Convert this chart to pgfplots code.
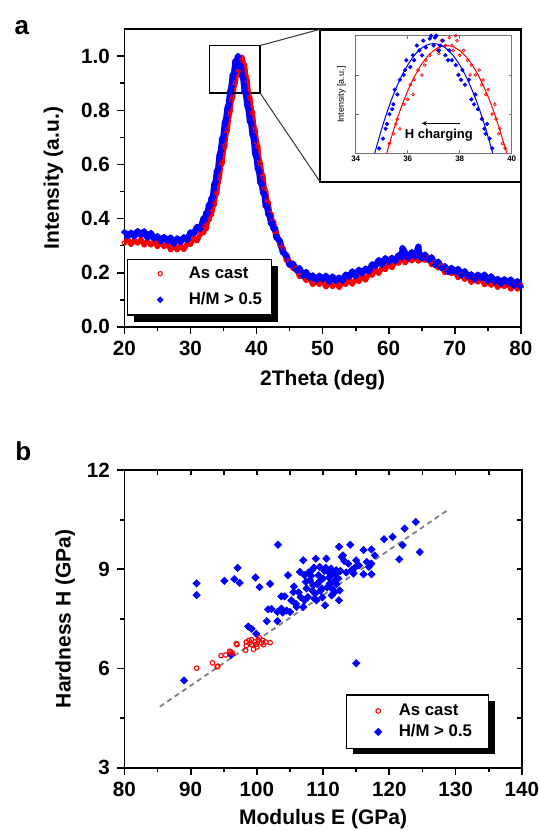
\documentclass[border=0pt]{standalone}
\usepackage{fontspec}
\setmainfont{Liberation Sans}
\usepackage{pgfplots}
\pgfplotsset{compat=1.18}
\usepackage{pgfplotstable}
\usetikzlibrary{arrows.meta}

\definecolor{hred}{RGB}{255,0,0}
\definecolor{hblue}{RGB}{0,0,255}

\pgfplotsset{
  base/.style={scale only axis,
    axis line style={line width=0.9pt},
    tick style={line width=0.9pt, black},
    tick align=outside, major tick length=3.75pt, minor tick length=2.3pt,
    /pgf/number format/assume math mode=true,
    tick label style={font=\fontsize{10.3}{12}\selectfont\bfseries},
    label style={font=\fontsize{10.5}{12}\selectfont\bfseries},
    legend cell align=left},
}

% XRD, as cast
\pgfplotstableread{
x y
20.0 0.310
20.5 0.324
21.0 0.305
21.5 0.319
22.0 0.310
22.5 0.323
23.0 0.303
23.5 0.316
24.0 0.303
24.5 0.316
25.0 0.297
25.5 0.309
26.0 0.297
26.5 0.307
27.0 0.285
27.5 0.297
28.0 0.285
28.5 0.301
29.0 0.286
29.5 0.306
30.0 0.305
30.5 0.327
31.0 0.318
31.5 0.344
32.0 0.348
32.2 0.371
32.4 0.363
32.6 0.390
32.8 0.395
33.0 0.422
33.2 0.415
33.4 0.445
33.6 0.452
33.8 0.488
34.0 0.494
34.2 0.535
34.4 0.554
34.6 0.596
34.8 0.606
35.0 0.650
35.2 0.669
35.4 0.714
35.6 0.728
35.8 0.774
36.0 0.796
36.2 0.839
36.4 0.848
36.6 0.889
36.8 0.902
37.0 0.939
37.2 0.943
37.4 0.976
37.6 0.981
37.8 0.996
38.0 0.975
38.2 0.968
38.4 0.927
38.6 0.910
38.8 0.861
39.0 0.845
39.2 0.807
39.4 0.791
39.6 0.742
39.8 0.726
40.0 0.684
40.2 0.666
40.4 0.618
40.6 0.603
40.8 0.567
41.0 0.554
41.2 0.510
41.4 0.500
41.6 0.465
41.8 0.458
42.0 0.420
42.2 0.416
42.4 0.390
42.6 0.387
42.8 0.352
43.0 0.351
43.5 0.305
44.0 0.290
44.5 0.247
45.0 0.241
45.5 0.216
46.0 0.216
46.5 0.186
47.0 0.191
47.5 0.172
48.0 0.180
48.5 0.157
49.0 0.168
49.5 0.157
50.0 0.169
50.5 0.148
51.0 0.161
51.5 0.149
52.0 0.163
52.5 0.146
53.0 0.163
53.5 0.157
54.0 0.174
54.5 0.158
55.0 0.176
55.5 0.168
56.0 0.186
56.5 0.173
57.0 0.193
57.5 0.191
58.0 0.211
58.5 0.198
59.0 0.218
59.5 0.212
60.0 0.232
60.5 0.219
61.0 0.239
61.5 0.235
62.0 0.253
62.5 0.237
63.0 0.254
63.5 0.244
64.0 0.260
64.5 0.243
65.0 0.257
65.5 0.246
66.0 0.255
66.5 0.230
67.0 0.237
67.5 0.218
68.0 0.225
68.5 0.201
69.0 0.210
69.5 0.197
70.0 0.206
70.5 0.182
71.0 0.192
71.5 0.176
72.0 0.186
72.5 0.165
73.0 0.177
73.5 0.166
74.0 0.177
74.5 0.156
75.0 0.168
75.5 0.154
76.0 0.166
76.5 0.146
77.0 0.159
77.5 0.149
78.0 0.161
78.5 0.140
79.0 0.153
79.5 0.140
80.0 0.153
}\xrdac

% XRD, H/M > 0.5
\pgfplotstableread{
x y
20.0 0.350
20.5 0.335
21.0 0.347
21.5 0.334
22.0 0.353
22.5 0.340
23.0 0.352
23.5 0.329
24.0 0.346
24.5 0.326
25.0 0.334
25.5 0.316
26.0 0.331
26.5 0.317
27.0 0.329
27.5 0.306
28.0 0.326
28.5 0.313
29.0 0.330
29.5 0.321
30.0 0.348
30.5 0.345
31.0 0.369
31.5 0.361
32.0 0.402
32.2 0.395
32.4 0.422
32.6 0.419
32.8 0.451
33.0 0.449
33.2 0.475
33.4 0.480
33.6 0.526
33.8 0.536
34.0 0.574
34.2 0.586
34.4 0.633
34.6 0.650
34.8 0.694
35.0 0.704
35.2 0.754
35.4 0.768
35.6 0.808
35.8 0.821
36.0 0.868
36.2 0.886
36.4 0.930
36.6 0.937
36.8 0.982
37.0 0.983
37.2 1.000
37.4 0.971
37.6 0.966
37.8 0.929
38.0 0.917
38.2 0.869
38.4 0.863
38.6 0.819
38.8 0.803
39.0 0.760
39.2 0.751
39.4 0.711
39.6 0.694
39.8 0.640
40.0 0.627
40.2 0.585
40.4 0.572
40.6 0.532
40.8 0.527
41.0 0.495
41.2 0.488
41.4 0.446
41.6 0.447
41.8 0.415
42.0 0.411
42.2 0.381
42.4 0.385
42.6 0.361
42.8 0.364
43.0 0.331
43.5 0.318
44.0 0.275
44.5 0.264
45.0 0.229
45.5 0.233
46.0 0.210
46.5 0.216
47.0 0.188
47.5 0.202
48.0 0.181
48.5 0.189
49.0 0.171
49.5 0.188
50.0 0.175
50.5 0.188
51.0 0.166
51.5 0.185
52.0 0.169
52.5 0.181
53.0 0.169
53.5 0.192
54.0 0.185
54.5 0.204
55.0 0.187
55.5 0.210
56.0 0.198
56.5 0.214
57.0 0.205
57.5 0.230
58.0 0.225
58.5 0.246
59.0 0.230
59.5 0.253
60.0 0.240
60.5 0.254
61.0 0.242
61.5 0.264
62.0 0.256
62.1 0.290
62.5 0.273
63.0 0.254
63.5 0.275
64.0 0.259
64.5 0.296
64.6 0.272
65.0 0.253
65.5 0.266
66.0 0.248
66.5 0.256
67.0 0.228
67.5 0.240
68.0 0.217
68.5 0.223
69.0 0.203
69.5 0.217
70.0 0.202
70.5 0.213
71.0 0.189
71.5 0.205
72.0 0.185
72.5 0.193
73.0 0.175
73.5 0.192
74.0 0.179
74.5 0.192
75.0 0.169
75.5 0.186
76.0 0.167
76.5 0.176
77.0 0.159
77.5 0.175
78.0 0.161
78.5 0.174
79.0 0.151
79.5 0.168
80.0 0.148
}\xrdhm

% inset points
\pgfplotstableread{
x y
35.30 0.890
35.45 0.900
35.55 0.910
35.60 0.915
35.70 0.905
35.85 0.930
36.00 0.935
36.10 0.950
36.20 0.940
36.25 0.955
36.40 0.965
36.55 0.960
36.65 0.970
36.70 0.975
36.85 0.980
37.00 0.990
37.15 0.985
37.20 0.982
37.30 0.995
37.45 0.990
37.60 0.998
37.70 0.990
37.75 0.985
37.85 1.000
37.90 0.995
38.00 0.980
38.15 0.985
38.30 0.975
38.40 0.960
38.45 0.970
38.60 0.960
38.75 0.965
38.85 0.950
38.90 0.955
39.00 0.940
39.10 0.945
39.25 0.920
39.35 0.930
39.40 0.915
39.50 0.900
39.55 0.905
39.65 0.890
39.75 0.885
}\insac
\pgfplotstableread{
x y
34.90 0.885
35.05 0.895
35.15 0.905
35.20 0.910
35.30 0.920
35.40 0.925
35.45 0.930
35.50 0.945
35.60 0.940
35.70 0.955
35.85 0.960
35.90 0.965
35.95 0.975
36.10 0.968
36.20 0.980
36.25 0.975
36.35 0.990
36.45 0.985
36.55 0.980
36.60 0.995
36.70 0.988
36.85 0.997
36.90 1.000
37.00 0.990
37.05 0.998
37.10 1.000
37.20 0.985
37.25 0.990
37.35 0.995
37.45 0.980
37.55 0.975
37.60 0.985
37.70 0.975
37.85 0.970
37.95 0.960
38.05 0.955
38.10 0.965
38.20 0.950
38.35 0.955
38.45 0.935
38.55 0.930
38.60 0.940
38.70 0.925
38.85 0.915
38.95 0.905
39.00 0.900
39.05 0.910
39.15 0.895
39.25 0.885
}\inshm

% hardness vs modulus
\pgfplotstableread{
x y
90.9 6.01
93.3 6.17
94.0 6.05
94.1 6.07
94.6 6.39
95.3 6.41
95.9 6.52
96.1 6.50
96.3 6.46
96.9 6.75
97.0 6.72
98.3 6.55
98.4 6.69
98.4 6.80
98.8 6.85
99.2 6.72
99.2 6.87
99.5 6.58
99.7 6.80
99.9 6.73
100.0 6.65
100.2 6.87
100.4 6.93
100.7 6.77
100.9 6.85
101.0 6.72
101.3 6.80
102.0 6.78
}\hardac
\pgfplotstableread{
x y
89.0 5.64
90.9 8.57
90.9 8.22
95.1 8.65
96.6 8.70
97.1 9.04
97.4 8.59
99.8 8.75
100.4 8.46
102.0 8.56
103.2 9.74
98.7 7.27
99.2 7.20
99.9 7.05
96.1 6.41
101.5 7.43
101.7 7.79
102.2 7.80
103.1 7.43
103.1 7.71
103.7 7.81
103.9 7.69
103.7 8.18
104.2 8.18
104.5 7.75
104.7 8.82
105.0 7.71
105.2 8.06
105.5 8.31
105.6 8.48
105.9 7.95
106.0 7.86
106.3 8.30
106.5 8.92
106.6 8.16
107.0 9.27
107.0 7.86
107.2 8.82
107.2 8.06
107.4 8.62
107.5 8.42
107.7 8.16
107.8 8.90
108.0 8.67
108.2 8.80
108.3 8.97
108.4 8.35
108.5 8.52
108.6 9.05
108.7 8.11
108.8 8.26
108.9 9.32
109.0 8.06
109.1 8.55
109.3 8.82
109.4 8.62
109.5 9.07
109.6 8.35
109.8 8.42
109.9 8.15
110.0 8.72
110.2 8.95
110.3 7.91
110.4 9.05
110.5 9.32
110.6 8.45
110.8 8.92
110.9 8.75
111.0 8.57
111.2 9.02
111.3 8.21
111.4 8.40
111.5 8.87
111.7 8.30
111.8 8.67
111.9 8.85
112.0 8.97
112.0 8.55
112.3 8.72
112.4 9.68
112.4 8.06
112.5 8.36
112.6 8.95
112.8 9.37
113.0 9.42
113.2 9.25
113.5 8.90
113.8 9.17
114.1 9.74
114.3 8.97
114.6 8.87
114.8 9.05
115.0 9.27
115.0 6.16
115.4 9.12
116.1 9.58
116.1 8.85
116.6 9.22
116.9 9.07
117.3 9.60
117.3 9.17
117.3 8.85
117.8 9.42
119.2 9.91
120.5 9.98
121.5 9.30
122.0 9.73
122.3 10.23
124.0 10.43
124.6 9.52
}\hardhm

\begin{document}
\begin{tikzpicture}
\useasboundingbox (0pt,0pt) rectangle (269.5pt,-415.5pt);

% ---- panel a ----
\begin{axis}[base,
  at={(62.2pt,-163.35pt)}, anchor=south west,
  width=198.2pt, height=148.7pt,
  xmin=20, xmax=80, ymin=0, ymax=1.1,
  xtick={20,30,...,80}, ytick={0,0.2,0.4,0.6,0.8,1.0},
  minor x tick num=1, minor y tick num=1,
  xtick pos=left, ytick pos=left,
  yticklabel style={/pgf/number format/.cd, fixed, fixed zerofill, precision=1},
  xlabel={2Theta (deg)}, ylabel={Intensity (a.u.)},
  xlabel style={at={(axis description cs:0.5,-0.179)}, anchor=center},
  ylabel style={at={(axis description cs:-0.179,0.5)}, anchor=center},
  legend style={at={(0.007,0.039)}, anchor=south west, draw=none, fill=none,
    inner xsep=4.1pt, inner ysep=3.75pt, row sep=5.5pt,
    font=\fontsize{8.4}{9}\selectfont\bfseries,
    nodes={inner xsep=2pt, inner ysep=0pt, text height=6pt, text depth=1.5pt}},
  legend image code/.code={\path[draw=none, fill=none] (0pt,-2pt) rectangle (24.5pt,2pt);
    \draw[mark repeat=2,mark phase=2,#1] plot coordinates {(0pt,0pt) (12.25pt,0pt) (24.5pt,0pt)};},
]
\addplot[forget plot, hred, line width=2.5pt, line join=round] table {\xrdac};
\addplot[only marks, hred, mark=o, mark size=1.1pt, mark options={line width=0.5pt}] table {\xrdac};
\addplot[forget plot, hblue, line width=3.1pt, line join=round] table {\xrdhm};
\addplot[only marks, hblue, mark=square*, mark size=1pt, mark options={rotate=45}] table {\xrdhm};
\legend{As cast, H/M > 0.5}
\draw[line width=0.8pt] (axis cs:32.9,0.864) rectangle (axis cs:40.55,1.04);
\coordinate (zt) at (axis cs:40.55,1.04);
\coordinate (zb) at (axis cs:40.55,0.864);
% legend frame with shadow
\fill[black] (axis description cs:0.0230,0.0168) rectangle (axis description cs:0.3872,0.2041);
\draw[line width=0.6pt, fill=white] (axis description cs:0.0071,0.0393) rectangle (axis description cs:0.3713,0.2266);
\end{axis}

% inset frame
\draw[line width=1.2pt, fill=white] (160pt,-14.65pt) rectangle (260.4pt,-90.85pt);
\draw[line width=0.5pt, black!80] (zt) -- (160pt,-14.65pt);
\draw[line width=0.5pt, black!80] (zb) -- (160pt,-90.85pt);

\begin{axis}[scale only axis,
  at={(177.85pt,-76.65pt)}, anchor=south west,
  width=78pt, height=58.8pt,
  xmin=34, xmax=40, ymin=0.88, ymax=1.0,
  xtick={34,36,38,40}, ytick={0.92,0.96}, yticklabels={},
  xtick pos=both, ytick pos=both, tick align=inside,
  major tick length=1.5pt,
  axis line style={black!55, line width=0.4pt},
  tick style={black!55, line width=0.4pt},
  /pgf/number format/assume math mode=true,
  xticklabel style={font=\fontsize{4}{5}\selectfont\bfseries, inner sep=1.2pt},
  ylabel={Intensity [a.u.]},
  ylabel style={font=\fontsize{4.5}{5}\selectfont, at={(axis description cs:-0.09,0.5)}, anchor=center},
]
\addplot[hred, line width=0.5pt, smooth] coordinates {(35.19,0.88) (35.5,0.9075) (35.75,0.9269) (36.0,0.9436) (36.25,0.9578) (36.5,0.9694) (36.75,0.9784) (37.0,0.9848) (37.25,0.9887) (37.5,0.990) (37.75,0.9887) (38.0,0.9848) (38.25,0.9784) (38.5,0.9694) (38.75,0.9578) (39.0,0.9436) (39.25,0.9269) (39.5,0.9075) (39.81,0.88)};
\addplot[only marks, hred, mark=o, mark size=0.7pt, mark options={line width=0.35pt}] table {\insac};
\addplot[hblue, line width=0.5pt, smooth] coordinates {(34.73,0.88) (35.0,0.905) (35.25,0.9255) (35.5,0.943) (35.75,0.958) (36.0,0.970) (36.25,0.9798) (36.5,0.9866) (36.75,0.9906) (37.0,0.992) (37.25,0.9906) (37.5,0.9866) (37.75,0.9798) (38.0,0.970) (38.25,0.958) (38.5,0.943) (38.75,0.9255) (39.0,0.905) (39.27,0.88)};
\addplot[only marks, hblue, mark=square*, mark size=0.6pt, mark options={rotate=45}] table {\inshm};
\draw[-{Stealth[length=2.5pt,width=2.2pt]}, line width=0.5pt] (axis cs:38.0,0.9106) -- (axis cs:36.54,0.9106);
\node[font=\fontsize{6.5}{7}\selectfont\bfseries] at (axis cs:37.2,0.898) {H charging};
\end{axis}

\node[font=\fontsize{13}{15}\selectfont\bfseries] at (10.9pt,-13.9pt) {a};

% ---- panel b ----
\begin{axis}[base,
  at={(62.2pt,-383.85pt)}, anchor=south west,
  width=198.7pt, height=148.85pt,
  xmin=80, xmax=140, ymin=3, ymax=12,
  xtick={80,90,...,140}, ytick={3,6,9,12},
  minor x tick num=1, minor y tick num=1,
  xtick pos=left, ytick pos=left,
  xlabel={Modulus E (GPa)}, ylabel={Hardness H (GPa)},
  xlabel style={at={(axis description cs:0.5,-0.172)}, anchor=center},
  ylabel style={at={(axis description cs:-0.149,0.5)}, anchor=center},
  legend style={at={(0.557,0.065)}, anchor=south west, draw=none, fill=none,
    inner xsep=7.7pt, inner ysep=4.25pt, row sep=3pt,
    font=\fontsize{8.4}{9}\selectfont\bfseries,
    nodes={inner xsep=2pt, inner ysep=0pt, text height=6pt, text depth=1.5pt}},
  legend image code/.code={\path[draw=none, fill=none] (0pt,-2pt) rectangle (16.6pt,2pt);
    \draw[mark repeat=2,mark phase=2,#1] plot coordinates {(0pt,0pt) (8.3pt,0pt) (16.6pt,0pt)};},
  reverse legend,
]
\addplot[forget plot, black!50, line width=0.9pt, dash pattern=on 2.5pt off 2pt] coordinates {(85.35,4.845) (128.95,10.81)};
\addplot[only marks, hblue, mark=square*, mark size=1.25pt, mark options={rotate=45}] table {\hardhm};
\addplot[only marks, hred, mark=o, mark size=1.15pt, mark options={line width=0.55pt}] table {\hardac};
\legend{H/M > 0.5, As cast}
% legend frame with shadow
\fill[black] (axis description cs:0.5755,0.0450) rectangle (axis description cs:0.9326,0.2240);
\draw[line width=0.6pt, fill=white] (axis description cs:0.5581,0.0652) rectangle (axis description cs:0.9152,0.2442);
\end{axis}
\begin{axis}[scale only axis,
  at={(62.2pt,-383.85pt)}, anchor=south west,
  width=198.7pt, height=148.85pt,
  xmin=80, xmax=140, ymin=3, ymax=12,
  axis x line*=top, axis y line*=right,
  xtick={80,85,...,140}, ytick={3,4.5,...,12},
  xticklabels={}, yticklabels={},
  tick align=inside, major tick length=2.6pt,
  tick style={line width=0.9pt, black},
  axis line style={line width=0.9pt},
]
\end{axis}

\node[font=\fontsize{13}{15}\selectfont\bfseries] at (11.6pt,-225.4pt) {b};
\end{tikzpicture}
\end{document}
